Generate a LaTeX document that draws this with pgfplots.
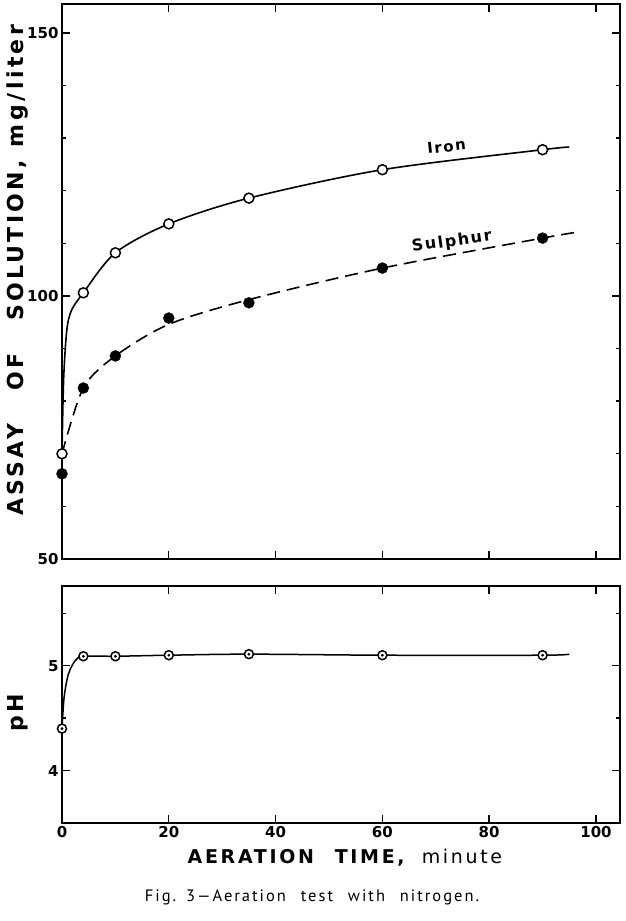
\documentclass[border=0pt]{standalone}
\usepackage{pgfplots}
\pgfplotsset{compat=1.18}
\usepackage{fontspec}
\setmainfont{DejaVu Sans}
\newfontfamily\capfont[LetterSpace=12]{PT Sans}
\newfontfamily\labfont[LetterSpace=15]{DejaVu Sans}
\newfontfamily\xlabfont[LetterSpace=14]{DejaVu Sans}
\newfontfamily\curvefont[LetterSpace=10]{DejaVu Sans}

\begin{document}
\begin{tikzpicture}
\path[use as bounding box] (0pt,0pt) rectangle (626pt,921pt);
\pgfplotsset{
  myaxis/.style={
    scale only axis, width=558pt, xmin=0, xmax=104.5,
    axis line style={line width=1.6pt},
    every tick/.style={line width=1.4pt, black},
    tick align=inside,
    major tick length=8pt, minor tick length=4pt,
    xtick={0,20,40,60,80,100},
    ticklabel style={font=\bfseries\fontsize{15}{15}\selectfont},
    /pgf/number format/assume math mode=true,
    clip=false,
  }
}
% Top panel
\begin{axis}[myaxis, at={(62pt,362pt)}, anchor=south west, height=555pt,
  ymin=50, ymax=155.5, ytick={50,100,150},
  minor ytick={60,70,80,90,110,120,130,140},
  xticklabels={},
  ylabel={ASSAY\hspace{1.5em}OF\hspace{1.5em}SOLUTION,\hspace{0.6em}mg\,/\,liter},
  ylabel style={at={(axis description cs:-0.08,0.52)}, anchor=center, font=\labfont\bfseries\fontsize{22}{22}\selectfont},
]
\addplot[black, line width=1.6pt, smooth] coordinates {
  (0,70) (0.3,84) (0.9,93.5) (1.8,97.3) (4,100.6) (10,108.2) (20,113.7) (35,118.6) (60,124.0) (90,127.8) (95,128.3)};
\addplot[black, line width=1.6pt, smooth, dash pattern=on 13pt off 7pt] coordinates {
  (0,70) (4,82.5) (10,88.6) (20,94.6) (35,99.3) (60,105.3) (90,111.0) (97,112.2)};
\addplot[only marks, mark=*, mark size=5pt, mark options={fill=white, draw=black, line width=1.5pt}] coordinates {
  (0,70) (4,100.6) (10,108.2) (20,113.7) (35,118.6) (60,124.0) (90,127.8)};
\addplot[only marks, mark=*, mark size=5.5pt, black] coordinates {
  (0,66.2) (4,82.5) (10,88.6) (20,95.8) (35,98.7) (60,105.3) (90,111.0)};
\node[rotate=6, font=\curvefont\bfseries\fontsize{15}{15}\selectfont] at (axis cs:72,128.4) {Iron};
\node[rotate=8, font=\curvefont\bfseries\fontsize{16}{16}\selectfont] at (axis cs:73,110.3) {Sulphur};
\end{axis}
% Bottom panel
\begin{axis}[myaxis, at={(62pt,98pt)}, anchor=south west, height=237pt,
  ymin=3.5, ymax=5.76, ytick={4,5}, minor ytick={4.5,5.5},
  ylabel={pH},
  ylabel style={at={(axis description cs:-0.08,0.464)}, anchor=center, font=\labfont\bfseries\fontsize{22}{22}\selectfont},
  xlabel={AERATION\hspace{1.1em}TIME,\hspace{0.9em}{\mdseries minute}},
  xlabel style={at={(axis description cs:0.507,-0.148)}, anchor=center, font=\xlabfont\bfseries\fontsize{19}{19}\selectfont},
]
\addplot[black, line width=1.5pt, smooth] coordinates {
  (0,4.4) (0.4,4.7) (1.2,4.92) (2.5,5.05) (4,5.09) (10,5.09) (20,5.1) (35,5.11) (60,5.1) (90,5.1) (95,5.11)};
\addplot[only marks, mark=*, mark size=4.5pt, mark options={fill=white, draw=black, line width=1.5pt}] coordinates {
  (0,4.4) (4,5.09) (10,5.09) (20,5.1) (35,5.11) (60,5.1) (90,5.1)};
\addplot[only marks, mark=*, mark size=1.2pt, black] coordinates {
  (0,4.4) (4,5.09) (10,5.09) (20,5.1) (35,5.11) (60,5.1) (90,5.1)};
\end{axis}
\node[font=\capfont\fontsize{16.5}{16.5}\selectfont] at (312pt,24pt) {Fig.\hspace{0.6em}3—Aeration\hspace{0.9em}test\hspace{0.9em}with\hspace{0.9em}nitrogen.};
\end{tikzpicture}
\end{document}
